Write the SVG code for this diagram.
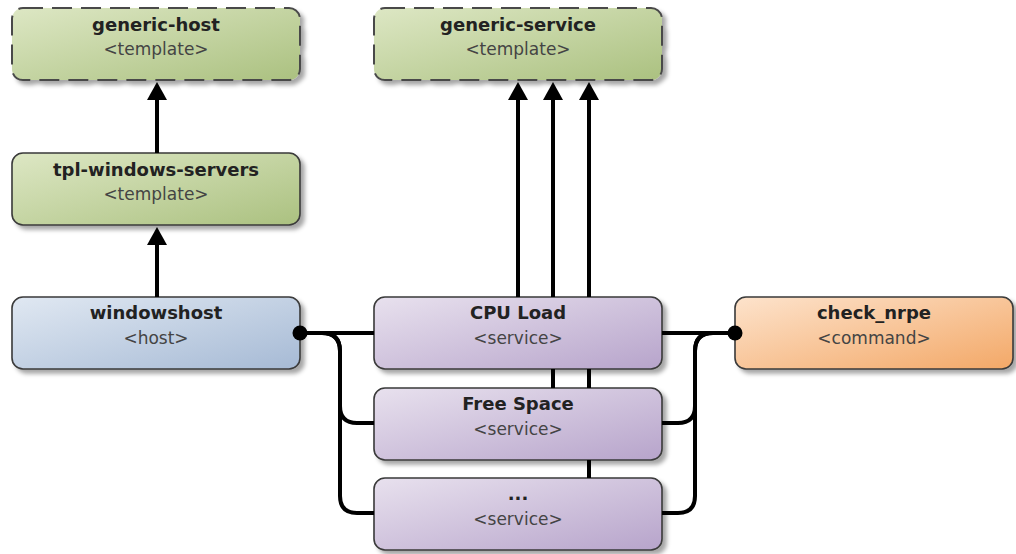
<svg xmlns="http://www.w3.org/2000/svg" width="1016" height="554" viewBox="0 0 1016 554">
<style>
.box{stroke:#3a3a3a;stroke-width:1.6}
.dash{stroke:#4a4a4a;stroke-width:2;stroke-dasharray:20 9}
.t{font-family:"DejaVu Sans",Verdana,sans-serif;font-weight:bold;font-size:18px;fill:#222;text-anchor:middle}
.s{font-family:"DejaVu Sans",Verdana,sans-serif;font-size:17px;fill:#444;text-anchor:middle}
.c{fill:none;stroke:#000;stroke-width:4}
.up{fill:none;stroke:#000;stroke-width:4;marker-end:url(#ah)}
</style>
<defs>
<linearGradient id="gG" x1="0" y1="0" x2="1" y2="1"><stop offset="0" stop-color="#dde7c4"/><stop offset="1" stop-color="#abc180"/></linearGradient>
<linearGradient id="gB" x1="0" y1="0" x2="1" y2="1"><stop offset="0" stop-color="#e0e8f2"/><stop offset="1" stop-color="#a6bad5"/></linearGradient>
<linearGradient id="gP" x1="0" y1="0" x2="1" y2="1"><stop offset="0" stop-color="#e8e1ee"/><stop offset="1" stop-color="#b7a4cb"/></linearGradient>
<linearGradient id="gO" x1="0" y1="0" x2="1" y2="1"><stop offset="0" stop-color="#fde3cc"/><stop offset="1" stop-color="#f3a867"/></linearGradient>
<filter id="sh" x="-5%" y="-10%" width="115%" height="130%"><feDropShadow dx="4" dy="4" stdDeviation="2" flood-color="#000" flood-opacity="0.35"/></filter>
<marker id="ah" markerUnits="userSpaceOnUse" viewBox="0 0 18 20" markerWidth="18" markerHeight="20" refX="0" refY="10" orient="auto"><path d="M0,0 L18,10 L0,20 z" fill="#000"/></marker>
</defs>
<g id="node-generic-host">
<rect class="box dash" x="12" y="8" width="288" height="72" rx="11" fill="url(#gG)" filter="url(#sh)"/>
<text class="t" x="156" y="31">generic-host</text>
<text class="s" x="156" y="55">&lt;template&gt;</text>
</g>
<g id="node-generic-service">
<rect class="box dash" x="374" y="8" width="288" height="72" rx="11" fill="url(#gG)" filter="url(#sh)"/>
<text class="t" x="518" y="31">generic-service</text>
<text class="s" x="518" y="55">&lt;template&gt;</text>
</g>
<g id="node-tpl-windows-servers">
<rect class="box" x="12" y="153" width="288" height="72" rx="11" fill="url(#gG)" filter="url(#sh)"/>
<text class="t" x="156" y="176">tpl-windows-servers</text>
<text class="s" x="156" y="200">&lt;template&gt;</text>
</g>
<g id="node-windowshost">
<rect class="box" x="12" y="297" width="288" height="72" rx="11" fill="url(#gB)" filter="url(#sh)"/>
<text class="t" x="156" y="319">windowshost</text>
<text class="s" x="156" y="344">&lt;host&gt;</text>
</g>
<g id="node-cpu-load">
<rect class="box" x="374" y="297" width="288" height="72" rx="11" fill="url(#gP)" filter="url(#sh)"/>
<text class="t" x="518" y="319">CPU Load</text>
<text class="s" x="518" y="344">&lt;service&gt;</text>
</g>
<g id="node-free-space">
<rect class="box" x="374" y="388" width="288" height="72" rx="11" fill="url(#gP)" filter="url(#sh)"/>
<text class="t" x="518" y="410">Free Space</text>
<text class="s" x="518" y="435">&lt;service&gt;</text>
</g>
<g id="node-more">
<rect class="box" x="374" y="478" width="288" height="72" rx="11" fill="url(#gP)" filter="url(#sh)"/>
<text class="t" x="518" y="500">...</text>
<text class="s" x="518" y="525">&lt;service&gt;</text>
</g>
<g id="node-check-nrpe">
<rect class="box" x="735" y="297" width="278" height="72" rx="11" fill="url(#gO)" filter="url(#sh)"/>
<text class="t" x="874" y="319">check_nrpe</text>
<text class="s" x="874" y="344">&lt;command&gt;</text>
</g>
<g id="connectors">
<path class="up" d="M157,153 V100"/>
<path class="up" d="M157,297 V245"/>
<path class="up" d="M518,297 V100"/>
<path class="up" d="M553,388 V369 M553,297 V100"/>
<path class="up" d="M589,478 V460 M589,388 V369 M589,297 V100"/>
<path class="c" d="M300,333 H374"/>
<path class="c" d="M300,333 H322 Q340,333 340,351 V406 Q340,423 357,423 H374"/>
<path class="c" d="M300,333 H322 Q340,333 340,351 V496 Q340,513 357,513 H374"/>
<path class="c" d="M662,333 H735"/>
<path class="c" d="M662,423 H678 Q695,423 695,406 V351 Q695,333 713,333 H735"/>
<path class="c" d="M662,513 H678 Q695,513 695,496 V351 Q695,333 713,333 H735"/>
<circle cx="300" cy="333" r="7.5" fill="#000"/>
<circle cx="735" cy="333" r="7.5" fill="#000"/>
</g>
</svg>
